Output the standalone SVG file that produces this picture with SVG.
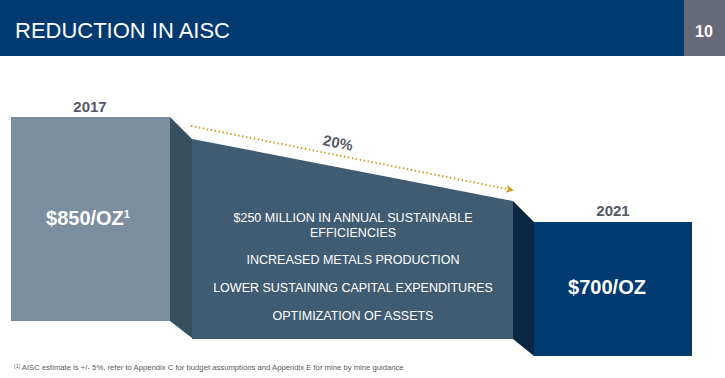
<svg xmlns="http://www.w3.org/2000/svg" width="725" height="378" viewBox="0 0 725 378">
<defs>
<style>
.t{font-family:"Liberation Sans",Arial,sans-serif}
.yr{font-size:15px;font-weight:bold;fill:#555966;text-anchor:middle}
.big{font-size:20px;font-weight:bold;fill:#ffffff;text-anchor:middle}
.mid{font-size:12.5px;fill:#ffffff;text-anchor:middle}
</style>
<marker id="ah" markerWidth="8" markerHeight="8" refX="6" refY="4" orient="auto" markerUnits="userSpaceOnUse">
<path d="M0,0 L8,4 L0,8 L2,4 Z" fill="#c9a227"/>
</marker>
</defs>
<rect width="725" height="378" fill="#ffffff"/>
<g id="header">
<rect x="0" y="0" width="684" height="56" fill="#003a70"/>
<rect x="684" y="0" width="41" height="56" fill="#676a78"/>
<text class="t" x="15" y="38" font-size="22" fill="#ffffff" textLength="215" lengthAdjust="spacingAndGlyphs">REDUCTION IN AISC</text>
<text class="t" x="704" y="37" font-size="16" font-weight="bold" fill="#ffffff" text-anchor="middle">10</text>
</g>
<g id="box2017">
<rect x="11" y="117" width="159" height="204" fill="#7a8ea0"/>
<polygon points="170,117 192,139 192,338 170,321" fill="#36505f"/>
<text class="t yr" x="90" y="112">2017</text>
<text class="t big" x="88" y="225">$850/OZ<tspan font-size="11" dy="-7">1</tspan></text>
</g>
<g id="middle">
<polygon points="192,139 513,201 513,339 192,339" fill="#3f5c73"/>
<polygon points="513,201 534,222 534,356 513,339" fill="#0c2742"/>
<text class="t mid" x="353" y="222">$250 MILLION IN ANNUAL SUSTAINABLE</text>
<text class="t mid" x="353" y="237">EFFICIENCIES</text>
<text class="t mid" x="353" y="264">INCREASED METALS PRODUCTION</text>
<text class="t mid" x="353" y="292">LOWER SUSTAINING CAPITAL EXPENDITURES</text>
<text class="t mid" x="353" y="320">OPTIMIZATION OF ASSETS</text>
</g>
<g id="box2021">
<rect x="534" y="222" width="158" height="134" fill="#003a70"/>
<text class="t yr" x="613" y="216">2021</text>
<text class="t big" x="607" y="294">$700/OZ</text>
</g>
<g id="connectors">
<line x1="191" y1="126" x2="512" y2="190" stroke="#c9a227" stroke-width="2" stroke-dasharray="1.5 2.5" marker-end="url(#ah)"/>
<text class="t" x="338" y="148" font-size="15" font-weight="bold" fill="#555966" text-anchor="middle" transform="rotate(11 338 143)">20%</text>
</g>
<g id="footnote">
<text class="t" x="14" y="370" font-size="7.7" fill="#5a5a5a"><tspan font-size="5" dy="-2">(1)</tspan><tspan dy="2"> AISC estimate is +/- 5%, refer to Appendix C for budget assumptions and Appendix E for mine by mine guidance</tspan></text>
</g>
</svg>
